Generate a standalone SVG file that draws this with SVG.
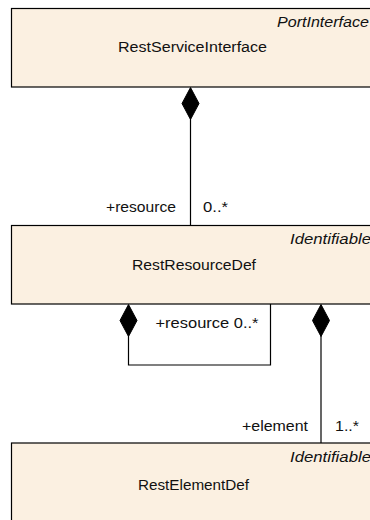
<svg xmlns="http://www.w3.org/2000/svg" width="370" height="520" viewBox="0 0 370 520">
<defs>
<style>
.box{fill:#FBF0E1;stroke:#000;stroke-width:1.2}
.t{font-family:"Liberation Sans",Arial,sans-serif;font-size:14px;fill:#111}
.st{font-family:"Liberation Sans",Arial,sans-serif;font-size:14px;font-style:italic;fill:#111}
.ln{fill:none;stroke:#000;stroke-width:1.2}
.dm{fill:#000;stroke:#000;stroke-width:1}
</style>
</defs>
<rect width="370" height="520" fill="#fff"/>
<g id="RestServiceInterface">
<rect class="box" x="11.5" y="8.5" width="380" height="78.5"/>
<text class="st" x="369" y="27" text-anchor="end" textLength="92" lengthAdjust="spacingAndGlyphs">PortInterface</text>
<text class="t" x="118" y="52" textLength="149" lengthAdjust="spacingAndGlyphs">RestServiceInterface</text>
</g>
<g id="RestResourceDef">
<rect class="box" x="11.5" y="225.5" width="380" height="78.5"/>
<text class="st" x="371" y="244" text-anchor="end" textLength="81" lengthAdjust="spacingAndGlyphs">Identifiable</text>
<text class="t" x="132" y="270" textLength="124" lengthAdjust="spacingAndGlyphs">RestResourceDef</text>
</g>
<g id="RestElementDef">
<rect class="box" x="11.5" y="443" width="380" height="90"/>
<text class="st" x="371" y="462" text-anchor="end" textLength="81" lengthAdjust="spacingAndGlyphs">Identifiable</text>
<text class="t" x="138" y="490" textLength="111" lengthAdjust="spacingAndGlyphs">RestElementDef</text>
</g>
<g id="connectors">
<path class="ln" d="M190.5 119 V225.5"/>
<path class="dm" d="M190.5 87.5 L199 103.5 L190.5 119.5 L182 103.5 Z"/>
<path class="ln" d="M128.5 336 V365 H270.5 V304"/>
<path class="dm" d="M128.5 304.5 L137 320.5 L128.5 336.5 L120 320.5 Z"/>
<path class="ln" d="M321 336 V443"/>
<path class="dm" d="M321 304.5 L329.5 320.5 L321 336.5 L312.5 320.5 Z"/>
<text class="t" x="176" y="212" text-anchor="end" textLength="70" lengthAdjust="spacingAndGlyphs">+resource</text>
<text class="t" x="203" y="212" textLength="25" lengthAdjust="spacingAndGlyphs">0..*</text>
<text class="t" x="155.5" y="328" textLength="103" lengthAdjust="spacingAndGlyphs">+resource 0..*</text>
<text class="t" x="308" y="431" text-anchor="end" textLength="66" lengthAdjust="spacingAndGlyphs">+element</text>
<text class="t" x="335" y="431" textLength="24" lengthAdjust="spacingAndGlyphs">1..*</text>
</g>
</svg>
